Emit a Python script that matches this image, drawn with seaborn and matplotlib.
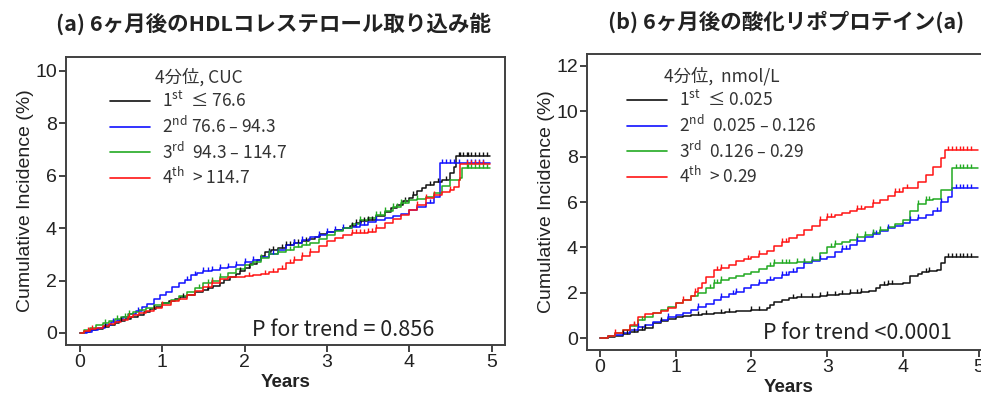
import numpy as np
import pandas as pd
import matplotlib
matplotlib.use("Agg")
import matplotlib.pyplot as plt
from matplotlib.lines import Line2D
from matplotlib.path import Path
import seaborn as sns

sns.set_theme(style="white")
plt.rcParams["font.family"] = ["Liberation Sans", "Noto Sans CJK JP", "DejaVu Sans"]
plt.rcParams["mathtext.default"] = "regular"

# ---------------- data ----------------
groups = ["Q1", "Q2", "Q3", "Q4"]
colors = {"Q1": "#111111", "Q2": "#1010ff", "Q3": "#22aa22", "Q4": "#ff1414"}

# Panel (a): HDL cholesterol uptake capacity (CUC) quartiles
a_labels = [r"$1^{st}$  ≤ 76.6", r"$2^{nd}$ 76.6 – 94.3",
            r"$3^{rd}$  94.3 – 114.7", r"$4^{th}$  > 114.7"]
a_t1 = [0, 0.05, 0.12, 0.2, 0.28, 0.35, 0.42, 0.48, 0.55, 0.62,
        0.7, 0.78, 0.85, 0.92, 1.0, 1.08, 1.15, 1.22, 1.3, 1.4,
        1.5, 1.56, 1.62, 1.7, 1.75, 1.82, 1.9, 1.95, 2.0, 2.07,
        2.15, 2.2, 2.25, 2.32, 2.4, 2.5, 2.6, 2.7, 2.78, 2.85,
        2.92, 3.0, 3.1, 3.2, 3.28, 3.35, 3.42, 3.5, 3.6, 3.7,
        3.78, 3.85, 3.92, 4.0, 4.05, 4.1, 4.15, 4.2, 4.3, 4.4,
        4.5, 4.55, 4.57, 4.98]
a_v1 = [0, 0.05, 0.1, 0.15, 0.22, 0.3, 0.38, 0.45, 0.55, 0.62,
        0.7, 0.8, 0.9, 1.0, 1.13, 1.22, 1.3, 1.38, 1.45, 1.55,
        1.64, 1.72, 1.8, 1.92, 2.02, 2.12, 2.25, 2.36, 2.47, 2.62,
        2.8, 2.95, 3.1, 3.18, 3.25, 3.36, 3.42, 3.5, 3.58, 3.68,
        3.76, 3.84, 3.92, 4.0, 4.1, 4.2, 4.26, 4.32, 4.45, 4.6,
        4.75, 4.9, 5.02, 5.15, 5.28, 5.4, 5.52, 5.65, 5.75, 5.84,
        6.1, 6.35, 6.76, 6.76]
a_t2 = [0, 0.08, 0.15, 0.22, 0.3, 0.38, 0.45, 0.52, 0.6, 0.68,
        0.75, 0.82, 0.9, 0.97, 1.05, 1.12, 1.2, 1.27, 1.35, 1.42,
        1.5, 1.6, 1.7, 1.8, 1.9, 2.0, 2.1, 2.2, 2.3, 2.4,
        2.5, 2.6, 2.7, 2.8, 2.9, 3.0, 3.1, 3.2, 3.3, 3.4,
        3.5, 3.6, 3.7, 3.8, 3.9, 4.0, 4.1, 4.2, 4.3, 4.37,
        4.98]
a_v2 = [0, 0.05, 0.12, 0.2, 0.3, 0.4, 0.5, 0.62, 0.72, 0.85,
        1.0, 1.12, 1.3, 1.45, 1.58, 1.75, 1.9, 2.02, 2.2, 2.3,
        2.36, 2.42, 2.48, 2.52, 2.6, 2.72, 2.78, 2.88, 3.0, 3.18,
        3.36, 3.45, 3.55, 3.65, 3.75, 3.87, 3.93, 4.0, 4.05, 4.12,
        4.25, 4.32, 4.4, 4.48, 4.55, 4.69, 4.8, 4.95, 5.2, 6.5,
        6.5]
a_t3 = [0, 0.05, 0.12, 0.2, 0.28, 0.35, 0.42, 0.5, 0.58, 0.65,
        0.72, 0.8, 0.9, 1.0, 1.1, 1.2, 1.3, 1.4, 1.5, 1.6,
        1.7, 1.8, 1.9, 2.0, 2.1, 2.2, 2.3, 2.4, 2.5, 2.6,
        2.7, 2.8, 2.9, 3.0, 3.1, 3.2, 3.3, 3.4, 3.5, 3.6,
        3.7, 3.8, 3.9, 4.0, 4.1, 4.2, 4.3, 4.4, 4.5, 4.62,
        4.64, 4.98]
a_v3 = [0, 0.1, 0.2, 0.3, 0.38, 0.45, 0.52, 0.62, 0.72, 0.8,
        0.88, 0.95, 1.05, 1.13, 1.25, 1.4, 1.55, 1.7, 1.9, 2.0,
        2.15, 2.3, 2.45, 2.6, 2.72, 2.85, 3.0, 3.1, 3.18, 3.28,
        3.35, 3.45, 3.6, 3.75, 3.88, 4.0, 4.15, 4.3, 4.38, 4.5,
        4.65, 4.82, 4.95, 5.07, 5.12, 5.2, 5.35, 5.6, 5.83, 5.9,
        6.28, 6.28]
a_t4 = [0, 0.05, 0.12, 0.2, 0.28, 0.35, 0.42, 0.5, 0.58, 0.65,
        0.72, 0.8, 0.9, 1.0, 1.1, 1.2, 1.3, 1.4, 1.5, 1.6,
        1.7, 1.8, 1.9, 2.0, 2.1, 2.2, 2.3, 2.4, 2.5, 2.6,
        2.7, 2.8, 2.9, 3.0, 3.1, 3.2, 3.3, 3.4, 3.5, 3.6,
        3.7, 3.8, 3.9, 4.0, 4.1, 4.2, 4.3, 4.4, 4.5, 4.55,
        4.6, 4.62, 4.98]
a_v4 = [0, 0.08, 0.14, 0.2, 0.28, 0.35, 0.42, 0.5, 0.6, 0.7,
        0.78, 0.85, 0.95, 1.07, 1.2, 1.3, 1.45, 1.6, 1.77, 1.9,
        2.05, 2.12, 2.15, 2.17, 2.2, 2.25, 2.34, 2.45, 2.66, 2.8,
        2.95, 3.1, 3.3, 3.49, 3.62, 3.75, 3.8, 3.82, 3.84, 4.0,
        4.2, 4.35, 4.5, 4.7, 4.9, 5.15, 5.27, 5.39, 5.46, 5.58,
        5.84, 6.45, 6.45]

# Panel (b): oxidized lipoprotein(a) quartiles
b_labels = [r"$1^{st}$  ≤ 0.025", r"$2^{nd}$  0.025 – 0.126",
            r"$3^{rd}$  0.126 – 0.29", r"$4^{th}$  > 0.29"]
b_t1 = [0, 0.1, 0.2, 0.3, 0.4, 0.5, 0.6, 0.7, 0.8, 0.9,
        1.0, 1.1, 1.2, 1.35, 1.5, 1.65, 1.8, 2.0, 2.2, 2.25,
        2.3, 2.4, 2.5, 2.6, 2.75, 2.9, 3.0, 3.15, 3.3, 3.45,
        3.55, 3.65, 3.7, 3.8, 3.9, 4.0, 4.1, 4.2, 4.25, 4.35,
        4.45, 4.5, 4.55, 4.99]
b_v1 = [0, 0.05, 0.12, 0.2, 0.27, 0.37, 0.45, 0.66, 0.75, 0.85,
        0.96, 1.0, 1.03, 1.08, 1.1, 1.15, 1.2, 1.25, 1.32, 1.45,
        1.62, 1.68, 1.76, 1.8, 1.84, 1.87, 1.9, 1.95, 2.0, 2.05,
        2.1, 2.2, 2.35, 2.38, 2.4, 2.42, 2.75, 2.85, 2.93, 2.95,
        3.0, 3.3, 3.56, 3.56]
b_t2 = [0, 0.1, 0.2, 0.3, 0.4, 0.5, 0.6, 0.7, 0.8, 0.9,
        1.0, 1.1, 1.2, 1.3, 1.4, 1.5, 1.6, 1.7, 1.8, 1.9,
        2.0, 2.1, 2.2, 2.3, 2.4, 2.5, 2.6, 2.7, 2.8, 2.9,
        3.0, 3.1, 3.2, 3.3, 3.4, 3.5, 3.6, 3.7, 3.8, 3.9,
        4.0, 4.1, 4.2, 4.3, 4.4, 4.5, 4.6, 4.65, 4.99]
b_v2 = [0, 0.08, 0.15, 0.25, 0.38, 0.51, 0.6, 0.7, 0.8, 0.92,
        1.03, 1.12, 1.25, 1.38, 1.5, 1.69, 1.82, 1.95, 2.05, 2.2,
        2.35, 2.45, 2.55, 2.65, 2.8, 2.93, 3.1, 3.3, 3.4, 3.5,
        3.59, 3.8, 3.95, 4.1, 4.3, 4.48, 4.6, 4.72, 4.85, 4.95,
        5.06, 5.2, 5.3, 5.43, 5.6, 6.0, 6.24, 6.6, 6.6]
b_t3 = [0, 0.1, 0.2, 0.3, 0.4, 0.5, 0.6, 0.7, 0.8, 0.9,
        1.0, 1.1, 1.2, 1.3, 1.4, 1.5, 1.6, 1.7, 1.8, 1.9,
        2.0, 2.1, 2.2, 2.3, 2.4, 2.5, 2.6, 2.7, 2.8, 2.9,
        3.0, 3.1, 3.2, 3.3, 3.4, 3.5, 3.6, 3.7, 3.8, 3.9,
        4.0, 4.1, 4.2, 4.3, 4.4, 4.5, 4.65, 4.99]
b_v3 = [0, 0.1, 0.22, 0.38, 0.55, 0.81, 0.95, 1.1, 1.25, 1.4,
        1.54, 1.7, 1.85, 2.0, 2.2, 2.42, 2.55, 2.65, 2.75, 2.85,
        2.93, 3.05, 3.2, 3.3, 3.32, 3.33, 3.35, 3.38, 3.45, 3.75,
        4.0, 4.15, 4.25, 4.35, 4.45, 4.55, 4.65, 4.75, 4.9, 5.05,
        5.2, 5.6, 5.9, 6.09, 6.15, 6.53, 7.48, 7.48]
b_t4 = [0, 0.1, 0.2, 0.3, 0.4, 0.5, 0.6, 0.7, 0.8, 0.9,
        1.0, 1.1, 1.2, 1.25, 1.3, 1.35, 1.4, 1.5, 1.6, 1.7,
        1.8, 1.9, 2.0, 2.1, 2.2, 2.3, 2.4, 2.5, 2.6, 2.7,
        2.8, 2.9, 3.0, 3.1, 3.2, 3.3, 3.4, 3.5, 3.6, 3.7,
        3.8, 3.9, 4.0, 4.1, 4.2, 4.3, 4.4, 4.5, 4.55, 4.99]
b_v4 = [0, 0.1, 0.22, 0.35, 0.6, 0.95, 1.05, 1.12, 1.2, 1.35,
        1.54, 1.7, 1.85, 2.05, 2.2, 2.45, 2.72, 3.0, 3.1, 3.25,
        3.4, 3.5, 3.6, 3.7, 3.85, 4.05, 4.25, 4.4, 4.55, 4.75,
        4.95, 5.2, 5.36, 5.45, 5.5, 5.6, 5.7, 5.8, 5.95, 6.1,
        6.25, 6.45, 6.6, 6.62, 6.9, 7.2, 7.55, 7.93, 8.3, 8.3]

# censoring times
a_c1 = [0.3, 0.5, 0.9, 1.25, 1.55, 1.95, 2.05, 2.3, 2.35, 2.45, 2.5, 2.55, 2.6, 2.65, 2.75,
        3.3, 3.35, 3.4, 3.45, 3.5, 3.55, 3.95, 4.05, 4.25, 4.35, 4.45, 4.6, 4.62, 4.65, 4.7,
        4.72, 4.75, 4.8, 4.85, 4.9, 4.95]
a_c2 = [0.4, 0.7, 1.3, 1.4, 1.5, 1.55, 1.6, 1.7, 1.8, 1.9, 2.0, 2.1, 2.3, 2.35, 2.6, 2.7,
        2.9, 3.0, 3.1, 3.2, 3.35, 3.4, 3.45, 3.6, 4.25, 4.4, 4.45, 4.5, 4.55, 4.6, 4.7, 4.75,
        4.8, 4.85, 4.9]
a_c3 = [0.3, 0.45, 0.55, 0.6, 1.45, 1.55, 1.6, 1.7, 2.2, 2.3, 2.4, 2.55, 2.65, 2.75, 3.4,
        3.6, 3.65, 3.7, 3.8, 3.85, 3.9, 3.95, 4.1, 4.7, 4.72, 4.75, 4.8, 4.85, 4.9, 4.95]
a_c4 = [0.1, 0.15, 0.6, 1.0, 1.55, 1.6, 2.05, 2.25, 2.35, 2.45, 2.55, 2.6, 2.7, 2.8, 3.3,
        3.35, 3.4, 3.45, 3.5, 3.55, 3.6, 4.1, 4.2, 4.3, 4.5, 4.7, 4.75, 4.8, 4.85, 4.9]
b_c1 = [0.3, 0.35, 0.45, 0.55, 0.6, 0.8, 1.3, 1.4, 1.6, 1.7, 2.0, 2.1, 2.55, 2.65, 2.8, 2.9,
        3.0, 3.1, 3.2, 3.3, 3.4, 3.45, 3.75, 3.8, 3.85, 4.3, 4.35, 4.6, 4.65, 4.7, 4.75, 4.8,
        4.85, 4.9]
b_c2 = [0.5, 0.9, 1.3, 1.6, 1.75, 1.8, 2.1, 2.25, 2.4, 2.45, 2.55, 2.7, 2.8, 2.9, 3.2, 3.25,
        3.4, 3.6, 3.65, 3.8, 4.1, 4.2, 4.45, 4.5, 4.7, 4.75, 4.8, 4.85, 4.9]
b_c3 = [0.45, 0.55, 1.45, 1.5, 1.55, 1.6, 2.25, 2.3, 2.4, 2.45, 2.5, 2.6, 2.7, 2.8, 3.05,
        3.1, 3.4, 3.5, 3.6, 3.7, 4.2, 4.3, 4.35, 4.7, 4.75, 4.8, 4.85, 4.9]
b_c4 = [0.2, 0.45, 1.1, 1.25, 1.55, 1.6, 1.95, 2.1, 2.4, 2.45, 2.9, 3.0, 3.05, 3.4, 3.45,
        3.6, 3.9, 3.95, 4.05, 4.6, 4.65, 4.7, 4.75, 4.8, 4.85, 4.9]

panel_a = [(a_t1, a_v1, a_c1), (a_t2, a_v2, a_c2), (a_t3, a_v3, a_c3), (a_t4, a_v4, a_c4)]
panel_b = [(b_t1, b_v1, b_c1), (b_t2, b_v2, b_c2), (b_t3, b_v3, b_c3), (b_t4, b_v4, b_c4)]

# upward censor tick marker
tick_marker = Path([[0, 0], [0, 1]], [Path.MOVETO, Path.LINETO])


def build_frames(panel):
    lines, cens = [], []
    for g, (t, v, c) in zip(groups, panel):
        lines.append(pd.DataFrame({"t": t, "v": v, "g": g}))
        t_arr, v_arr = np.asarray(t), np.asarray(v)
        idx = np.searchsorted(t_arr, np.asarray(c), side="right") - 1
        cens.append(pd.DataFrame({"t": c, "v": v_arr[idx], "g": g}))
    return pd.concat(lines, ignore_index=True), pd.concat(cens, ignore_index=True)


fig = plt.figure(figsize=(9.81, 3.96), dpi=100)
W, H = 981, 396


def axes_px(x0, x1, y0, y1):
    return fig.add_axes([x0 / W, (H - y1) / H, (x1 - x0) / W, (y1 - y0) / H])


ax1 = axes_px(66, 505, 57, 345)
ax2 = axes_px(587, 990, 54, 350)

legend_font = {"family": ["Noto Sans CJK JP", "DejaVu Sans"], "size": 12.5}


def draw(ax, panel, labels, legtitle, ptext, xlim, ylim, yticks, pxy, leg_anchor):
    df, dc = build_frames(panel)
    sns.lineplot(data=df, x="t", y="v", hue="g", palette=colors, drawstyle="steps-post",
                 estimator=None, linewidth=1.1, legend=False, ax=ax)
    for g, sub in dc.groupby("g"):
        ax.plot(sub["t"], sub["v"], linestyle="none", marker=tick_marker, markersize=5.5,
                markeredgecolor=colors[g], markeredgewidth=1.0)
    ax.set_xlim(*xlim)
    ax.set_ylim(*ylim)
    ax.set_xticks([0, 1, 2, 3, 4, 5])
    ax.set_yticks(yticks)
    ax.set_xlabel("Years", fontsize=13.5, fontweight="bold", color="#222222", labelpad=2)
    ax.set_ylabel("Cumulative Incidence (%)", fontsize=14, color="#222222", labelpad=1)
    ax.tick_params(axis="both", which="major", direction="out", length=5, width=1.2,
                   labelsize=14, colors="#222222", bottom=True, left=True, pad=1.5)
    for sp in ax.spines.values():
        sp.set_color("#404040")
        sp.set_linewidth(1.4)
    handles = [Line2D([0], [0], color=colors[g], lw=1.2) for g in groups]
    leg = ax.legend(handles, labels, title=legtitle, loc="upper left", bbox_to_anchor=leg_anchor,
                    frameon=False, handlelength=2.3, handletextpad=0.7, labelspacing=0.25,
                    prop=legend_font, title_fontproperties=legend_font, borderaxespad=0,
                    borderpad=0)
    for txt in leg.get_texts():
        txt.set_color("#333333")
    leg.get_title().set_color("#333333")
    ax.text(pxy[0], pxy[1], ptext, fontsize=15.5, color="#222222",
            family=["Noto Sans CJK JP", "DejaVu Sans"], ha="left", va="center")


draw(ax1, panel_a, a_labels, "4分位, CUC", "P for trend = 0.856",
     (-0.17, 5.164), (-0.46, 10.53), [0, 2, 4, 6, 8, 10], (2.09, 0.1), (0.10, 0.96))
draw(ax2, panel_b, b_labels, "4分位,  nmol/L", "P for trend <0.0001",
     (-0.172, 5.15), (-0.515, 12.52), [0, 2, 4, 6, 8, 10, 12], (2.15, 0.22), (0.10, 0.955))

title_font = dict(fontsize=15.5, fontweight="bold", color="#222222",
                  family=["Noto Sans CJK JP", "DejaVu Sans"], va="center", ha="center")
fig.text(273 / W, 1 - 24 / H, "(a) 6ヶ月後のHDLコレステロール取り込み能", **title_font)
fig.text(786 / W, 1 - 22 / H, "(b) 6ヶ月後の酸化リポプロテイン(a)", **title_font)

fig.savefig("out.png", dpi=100)
